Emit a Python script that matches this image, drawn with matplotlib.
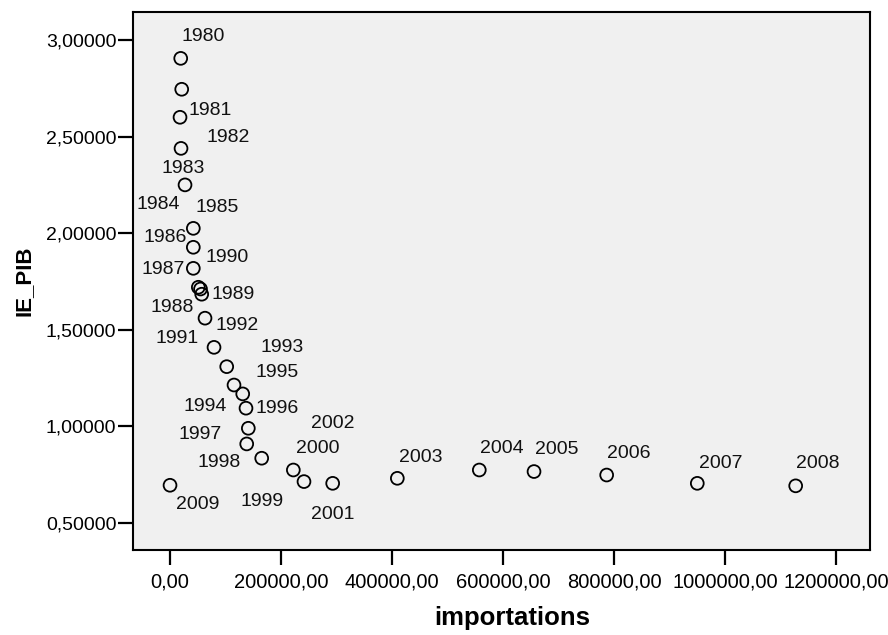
import matplotlib
matplotlib.use("Agg")
import matplotlib.pyplot as plt
from matplotlib.ticker import FuncFormatter

# values
years = [1980, 1981, 1982, 1983, 1984, 1985, 1986, 1987, 1988, 1989,
         1990, 1991, 1992, 1993, 1994, 1995, 1996, 1997, 1998, 1999,
         2000, 2001, 2002, 2003, 2004, 2005, 2006, 2007, 2008, 2009]
importations = [19280, 21080, 18020, 19820, 27030, 41980, 41980, 41980, 51000, 57100,
                54950, 63060, 79280, 102160, 115300, 131000, 136900, 141100, 138200, 165200,
                222200, 241400, 293100, 409600, 557300, 655900, 786800, 950100, 1127400, 0]
ie_pib = [2.905, 2.745, 2.600, 2.439, 2.250, 2.025, 1.927, 1.818, 1.720, 1.684,
          1.711, 1.560, 1.409, 1.309, 1.214, 1.168, 1.094, 0.990, 0.909, 0.835,
          0.774, 0.714, 0.705, 0.731, 0.774, 0.766, 0.748, 0.705, 0.692, 0.695]

# where each case label sits relative to its point (pixels, right/down positive)
label_offsets = [(22, -22), (28, 21), (48, 20), (2, 20), (-27, 20), (24, -21), (-28, -10),
                 (-30, 1), (-26, 20), (31, 0), (27, -32), (-28, 20), (23, -22), (55, -19),
                 (-29, 21), (34, -21), (31, 0), (-48, 6), (-28, 19), (0, 43), (24, -22),
                 (29, 33), (0, -60), (23, -21), (23, -22), (23, -22), (22, -22), (23, -20),
                 (22, -22), (28, 19)]

plt.rcParams['font.family'] = ['Liberation Sans', 'DejaVu Sans']

fig = plt.figure(figsize=(8.88, 6.35), dpi=100)
ax = fig.add_axes([0.1498, 0.1339, 0.8299, 0.8472])
ax.set_facecolor('#f0f0f0')

ax.scatter(importations, ie_pib, s=85, facecolors='none', edgecolors='black',
           linewidths=1.3, zorder=3)

for yr, xv, yv, (dx, dy) in zip(years, importations, ie_pib, label_offsets):
    ax.annotate(str(yr), (xv, yv), xytext=(dx, -dy), textcoords='offset pixels',
                ha='center', va='center', fontsize=14, color='#111111')

ax.set_xlim(-66670, 1261260)
ax.set_ylim(0.36, 3.145)
ax.set_xticks([0, 200000, 400000, 600000, 800000, 1000000, 1200000])
ax.set_yticks([0.5, 1.0, 1.5, 2.0, 2.5, 3.0])
ax.xaxis.set_major_formatter(FuncFormatter(lambda v, p: ("%.2f" % v).replace(".", ",")))
ax.yaxis.set_major_formatter(FuncFormatter(lambda v, p: ("%.5f" % v).replace(".", ",")))

for s in ax.spines.values():
    s.set_linewidth(1.5)
ax.tick_params(axis='y', length=11, width=1.6, labelsize=14, pad=1)
ax.tick_params(axis='x', length=11, width=1.6, labelsize=14.5, pad=5)

ax.set_xlabel('importations', fontsize=18.5, fontweight='bold')
ax.xaxis.set_label_coords(0.514, -0.104)
ax.set_ylabel('IE_PIB', fontsize=16, fontweight='bold', labelpad=8)

fig.savefig('out.png', dpi=100)
